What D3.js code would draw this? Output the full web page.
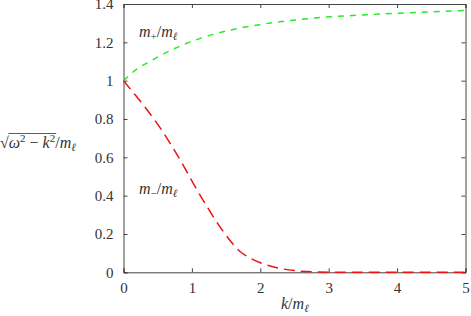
<!DOCTYPE html>
<html>
<head>
<meta charset="utf-8">
<script src="https://cdn.jsdelivr.net/npm/d3@7"></script>
<style>
  body { margin: 0; background: #fff; }
</style>
</head>
<body>
<script>
// data
var kPlus  = [0, 0.2, 0.4, 0.7, 1.0, 1.4, 1.9, 2.4, 2.8, 3.4, 4.1, 5.0];
var mPlus  = [1.0, 1.062, 1.103, 1.16, 1.205, 1.25, 1.287, 1.312, 1.327, 1.341, 1.353, 1.366];
var kMinus = [0, 0.15, 0.3, 0.44, 0.56, 0.68, 0.8, 1.0, 1.22, 1.46, 1.7, 1.85, 2.0, 2.24, 2.5, 2.8, 3.2, 4.0, 5.0];
var mMinus = [1.0, 0.935, 0.868, 0.802, 0.741, 0.674, 0.604, 0.477, 0.343, 0.212, 0.11, 0.074, 0.05, 0.024, 0.009, 0.002, 0, 0, 0];
var xTicks = [0, 1, 2, 3, 4, 5];
var yTicks = [0, 0.2, 0.4, 0.6, 0.8, 1, 1.2, 1.4];

var w = 471, h = 316;
var padL = 123.5, padR = 465.5, padT = 4, padB = 272.3;
var serif = "'Liberation Serif', 'DejaVu Serif', serif";

var svg = d3.select("body").append("svg").attr("width", w).attr("height", h);

var xScale = d3.scaleLinear().domain([0, 5]).range([padL, padR]);
var yScale = d3.scaleLinear().domain([0, 1.4]).range([padB, padT]);

// ticks on all four sides, pointing in
var tick = 4;
svg.append("g")
    .attr("transform", "translate(0," + padB + ")")
    .call(d3.axisBottom(xScale).tickValues(xTicks).tickSize(-tick).tickPadding(10).tickFormat(d3.format("d")));
svg.append("g")
    .attr("transform", "translate(0," + padT + ")")
    .call(d3.axisTop(xScale).tickValues(xTicks).tickSize(-tick).tickFormat(""));
svg.append("g")
    .attr("transform", "translate(" + padL + ",0)")
    .call(d3.axisLeft(yScale).tickValues(yTicks).tickSize(-tick).tickPadding(10).tickFormat(d3.format("")));
svg.append("g")
    .attr("transform", "translate(" + padR + ",0)")
    .call(d3.axisRight(yScale).tickValues(yTicks).tickSize(-tick).tickFormat(""));

svg.selectAll(".domain").attr("stroke", "#444");
svg.selectAll(".tick line").attr("stroke", "#444");
svg.selectAll(".tick text")
    .style("font-family", serif)
    .style("font-size", "15px")
    .style("fill", "#333");

var line = d3.line()
    .x(function(d) { return xScale(d[0]); })
    .y(function(d) { return yScale(d[1]); })
    .curve(d3.curveMonotoneX);

svg.append("path")
    .datum(d3.zip(kPlus, mPlus))
    .attr("d", line)
    .attr("fill", "none")
    .attr("stroke", "#22ee22")
    .attr("stroke-width", 1.5)
    .attr("stroke-dasharray", "6,6");

svg.append("path")
    .datum(d3.zip(kMinus, mMinus))
    .attr("d", line)
    .attr("fill", "none")
    .attr("stroke", "#ee1111")
    .attr("stroke-width", 1.5)
    .attr("stroke-dasharray", "11,6");

function newText(x, y) {
    return svg.append("text").attr("x", x).attr("y", y)
        .style("font-family", serif).style("font-size", "16px").style("fill", "#333");
}

// math labels
function mlabel(x, y, sub) {
    var t = newText(x, y);
    t.append("tspan").style("font-style", "italic").text("m");
    t.append("tspan").style("font-size", "11px").attr("dy", 3).text(sub);
    t.append("tspan").attr("dy", -3).text("/");
    t.append("tspan").style("font-style", "italic").text("m");
    t.append("tspan").style("font-size", "11px").style("font-style", "italic").attr("dy", 3).text("ℓ");
    return t;
}
mlabel(139, 37, "+");
mlabel(139, 194, "−");

// x label
var xl = newText(281, 309);
xl.append("tspan").style("font-style", "italic").text("k");
xl.append("tspan").text("/");
xl.append("tspan").style("font-style", "italic").text("m");
xl.append("tspan").style("font-size", "11px").style("font-style", "italic").attr("dy", 3).text("ℓ");

// y label with radical
var yl = newText(0, 148);
yl.append("tspan").text("√");
yl.append("tspan").style("font-style", "italic").text("ω");
yl.append("tspan").style("font-size", "11px").attr("dy", -6).text("2");
yl.append("tspan").attr("dy", 6).text(" − ");
yl.append("tspan").style("font-style", "italic").text("k");
yl.append("tspan").style("font-size", "11px").attr("dy", -6).text("2");
yl.append("tspan").attr("dy", 6).text("/");
yl.append("tspan").style("font-style", "italic").text("m");
yl.append("tspan").style("font-size", "11px").style("font-style", "italic").attr("dy", 3).text("ℓ");

var node = yl.node();
var x0 = node.getStartPositionOfChar(1).x;
var x1 = node.getEndPositionOfChar(7).x;
svg.append("line")
    .attr("x1", x0 - 0.5).attr("x2", x1 + 1)
    .attr("y1", 133.5).attr("y2", 133.5)
    .attr("stroke", "#333").attr("stroke-width", 0.8);
</script>
</body>
</html>
